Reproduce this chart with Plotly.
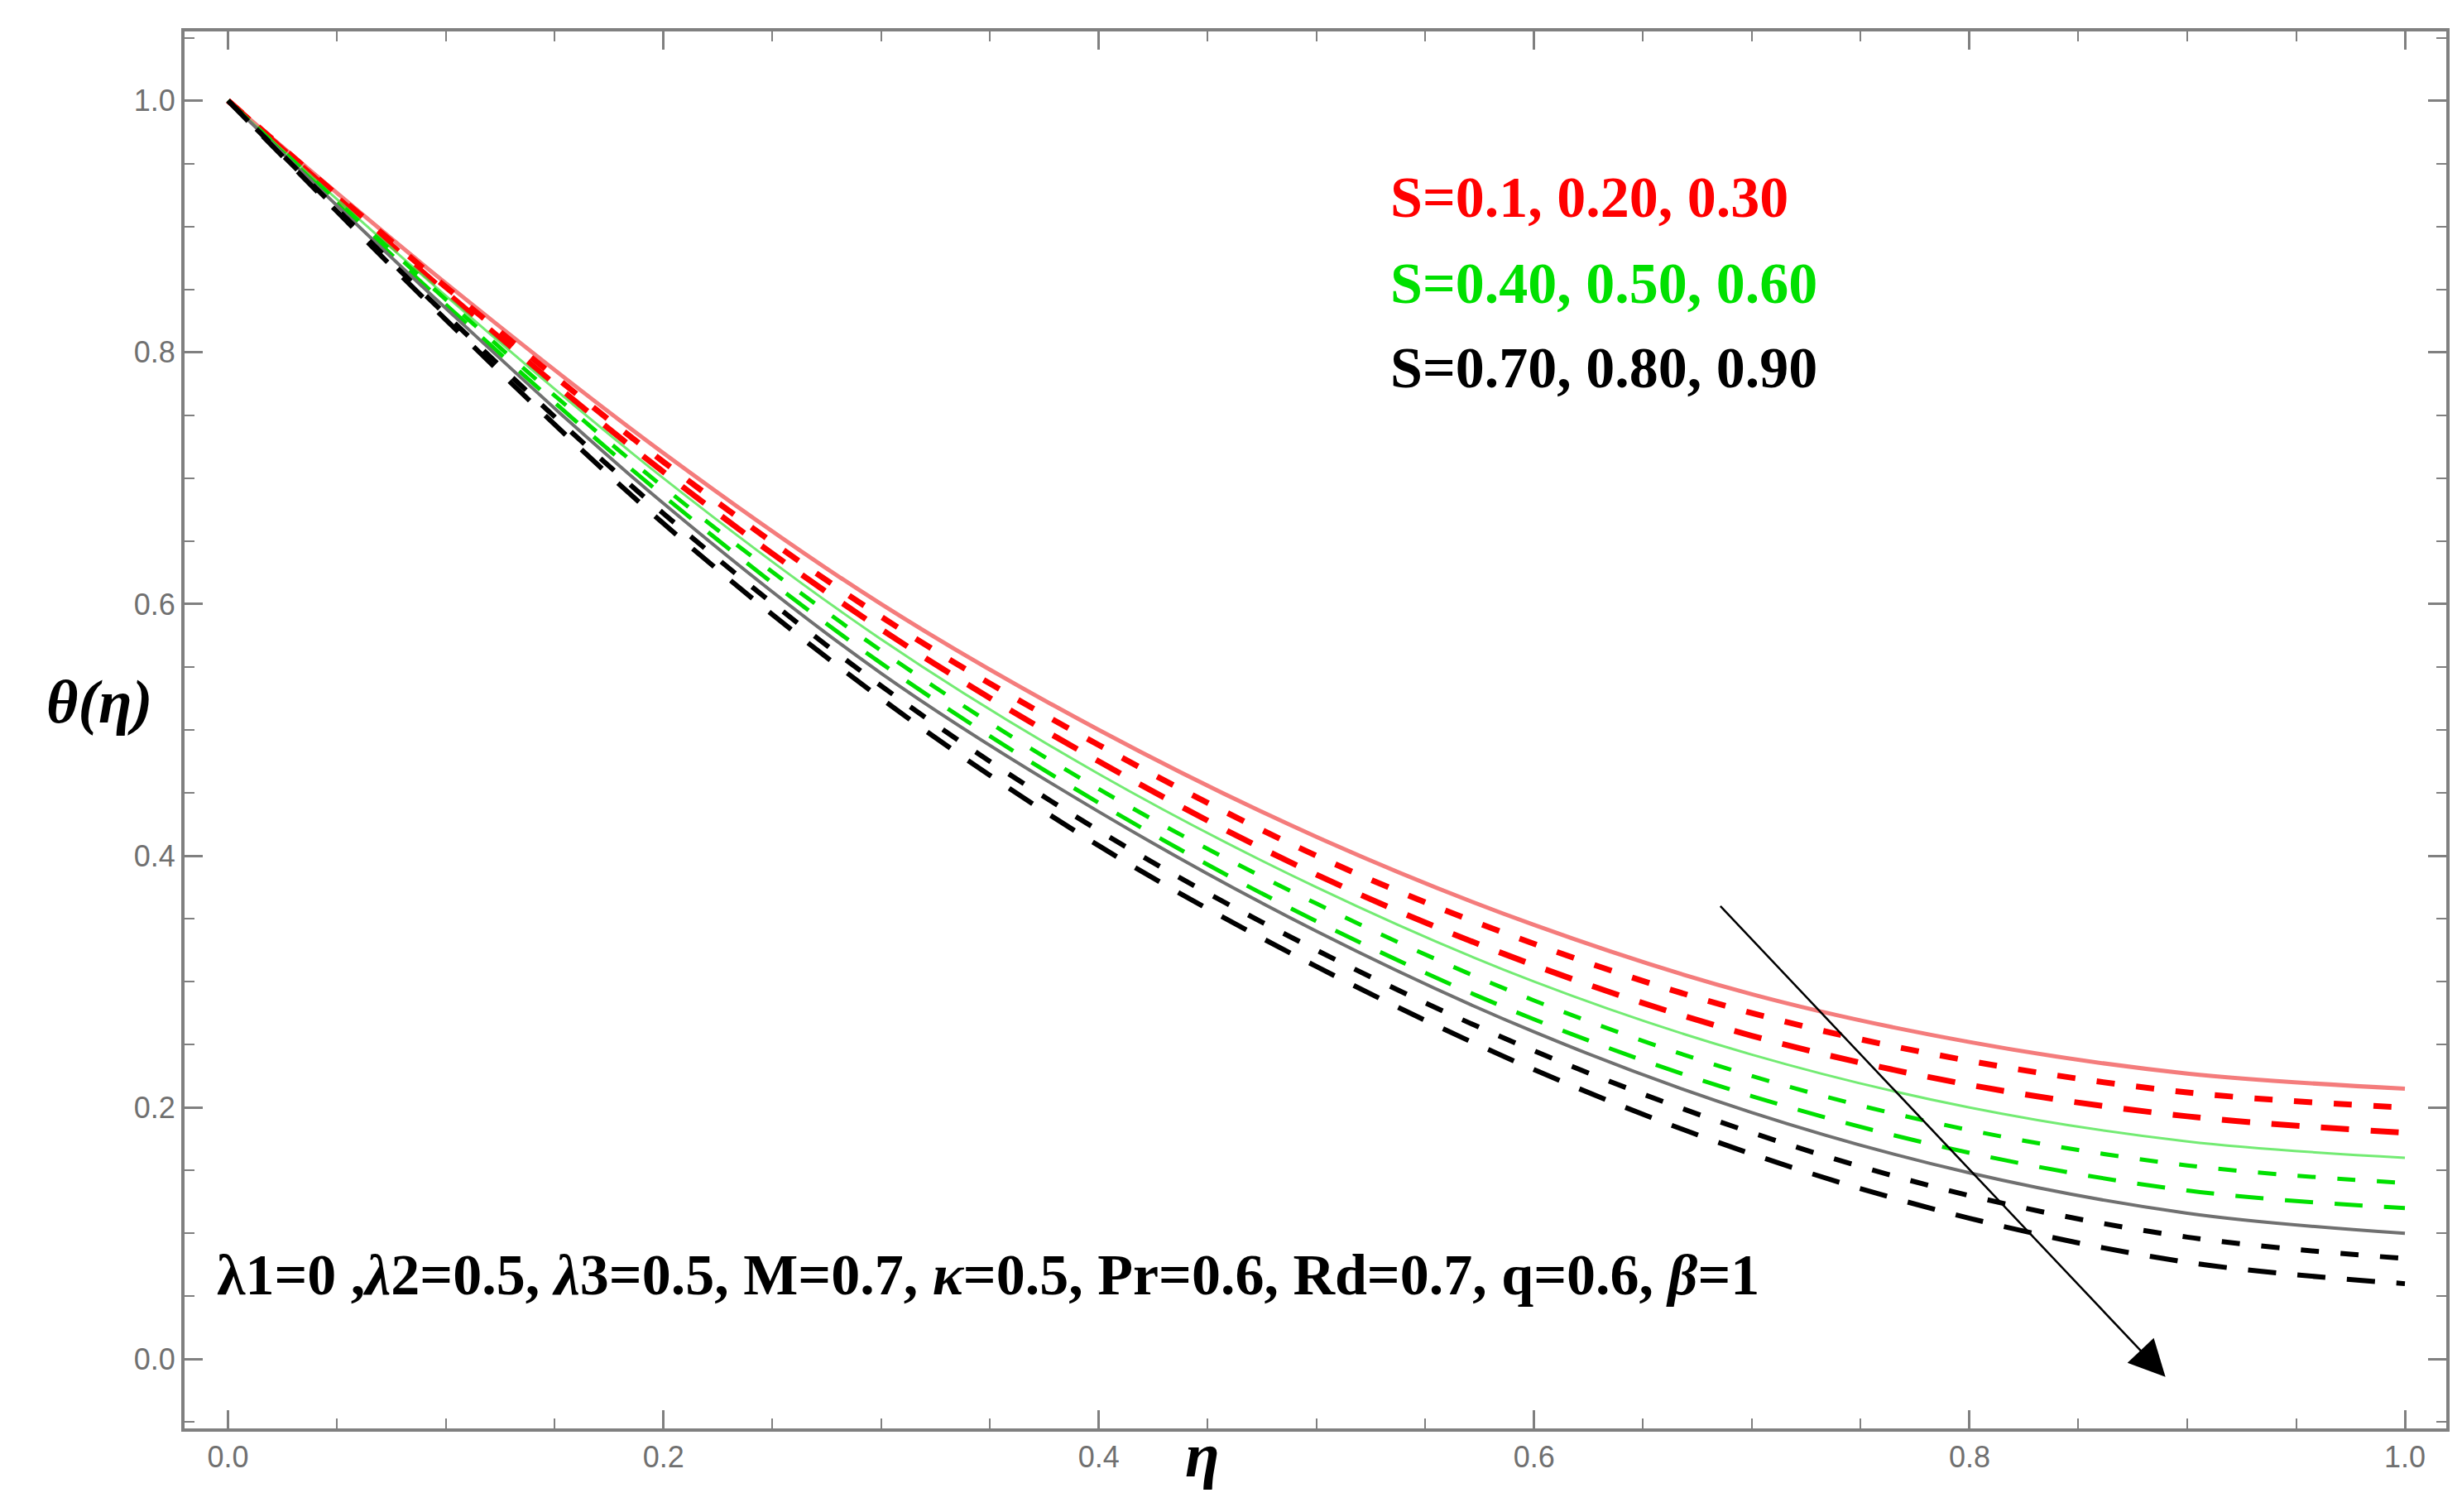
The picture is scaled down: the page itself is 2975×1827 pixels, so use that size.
import plotly.graph_objects as go

eta = [0.0, 0.1, 0.2, 0.3, 0.4, 0.5, 0.6, 0.7, 0.8, 0.9, 1.0]

# theta(eta) for S = 0.1 ... 0.9
red_s1 = [1, 0.855, 0.72, 0.60, 0.50, 0.415, 0.345, 0.29, 0.252, 0.227, 0.215]
red_s2 = [1, 0.852, 0.713, 0.59, 0.488, 0.40, 0.33, 0.275, 0.237, 0.212, 0.20]
red_s3 = [1, 0.848, 0.705, 0.58, 0.475, 0.385, 0.313, 0.257, 0.218, 0.193, 0.18]
green_s4 = [1, 0.845, 0.70, 0.572, 0.465, 0.375, 0.30, 0.242, 0.200, 0.173, 0.16]
green_s5 = [1, 0.842, 0.693, 0.563, 0.453, 0.362, 0.285, 0.225, 0.182, 0.154, 0.14]
green_s6 = [1, 0.838, 0.686, 0.553, 0.442, 0.348, 0.27, 0.209, 0.164, 0.134, 0.12]
black_s7 = [1, 0.835, 0.68, 0.545, 0.435, 0.34, 0.26, 0.196, 0.148, 0.116, 0.10]
black_s8 = [1, 0.83, 0.672, 0.535, 0.42, 0.325, 0.245, 0.18, 0.13, 0.097, 0.08]
black_s9 = [1, 0.826, 0.664, 0.525, 0.408, 0.312, 0.23, 0.163, 0.112, 0.077, 0.06]

series = [
    (red_s1, 'rgba(240,80,80,0.75)', 'solid', 5),
    (red_s2, '#ff0000', '22px,26px', 7),
    (red_s3, '#ff0000', '34px,26px', 7),
    (green_s4, 'rgba(80,230,80,0.8)', 'solid', 3),
    (green_s5, '#00e000', '22px,26px', 5),
    (green_s6, '#00e000', '34px,26px', 5),
    (black_s7, '#707070', 'solid', 4),
    (black_s8, '#000000', '22px,26px', 6),
    (black_s9, '#000000', '34px,26px', 6),
]

fig = go.Figure()
for ys, col, dash, w in series:
    fig.add_trace(go.Scatter(x=eta, y=ys, mode='lines', showlegend=False,
                             line=dict(color=col, dash=dash, width=w, shape='spline')))

serif = 'Liberation Serif'
for txt, col, y in [('S=0.1, 0.20, 0.30', '#ff0000', 0.923),
                    ('S=0.40, 0.50, 0.60', '#00e000', 0.855),
                    ('S=0.70, 0.80, 0.90', '#000000', 0.788)]:
    fig.add_annotation(x=0.533, y=y, text=f'<b>{txt}</b>', showarrow=False, xanchor='left',
                       font=dict(family=serif, size=70, color=col))

fig.add_annotation(x=-0.006, y=0.067, xanchor='left', showarrow=False,
                   text='<b>λ1=0 ,<i>λ</i>2=0.5, <i>λ</i>3=0.5, M=0.7, <i>κ</i>=0.5, Pr=0.6, Rd=0.7, q=0.6, <i>β</i>=1</b>',
                   font=dict(family=serif, size=70, color='black'))

# arrow indicating increasing S
fig.add_annotation(x=0.89, y=-0.014, ax=0.685, ay=0.361, xref='x', yref='y', axref='x', ayref='y',
                   showarrow=True, arrowhead=2, arrowsize=3.5, arrowwidth=2.5, arrowcolor='black', text='')

fig.add_annotation(x=-0.062, y=0.52, xref='paper', yref='paper', showarrow=False,
                   text='<b><i>θ(η)</i></b>', font=dict(family=serif, size=74, color='black'))
fig.add_annotation(x=0.45, y=-0.045, xref='paper', yref='paper', showarrow=False,
                   text='<b><i>η</i></b>', font=dict(family=serif, size=76, color='black'))

axis_common = dict(showgrid=False, zeroline=False, showline=True, linecolor='#808080', linewidth=4,
                   mirror='ticks', ticks='inside', ticklen=22, tickwidth=3, tickcolor='#808080',
                   tickfont=dict(family='Liberation Sans', size=36, color='#707070'))
fig.update_xaxes(range=[-0.02, 1.019], tickvals=[0, 0.2, 0.4, 0.6, 0.8, 1.0],
                 ticktext=['0.0', '0.2', '0.4', '0.6', '0.8', '1.0'],
                 minor=dict(dtick=0.05, ticks='inside', ticklen=12, tickcolor='#808080', tickwidth=2),
                 **axis_common)
fig.update_yaxes(range=[-0.055, 1.055], tickvals=[0, 0.2, 0.4, 0.6, 0.8, 1.0],
                 ticktext=['0.0', '0.2', '0.4', '0.6', '0.8', '1.0'],
                 minor=dict(dtick=0.05, ticks='inside', ticklen=12, tickcolor='#808080', tickwidth=2),
                 **axis_common)

fig.update_layout(width=2975, height=1827, plot_bgcolor='white', paper_bgcolor='white',
                  margin=dict(l=215, r=27, t=30, b=109))

fig.write_html('out.html')
